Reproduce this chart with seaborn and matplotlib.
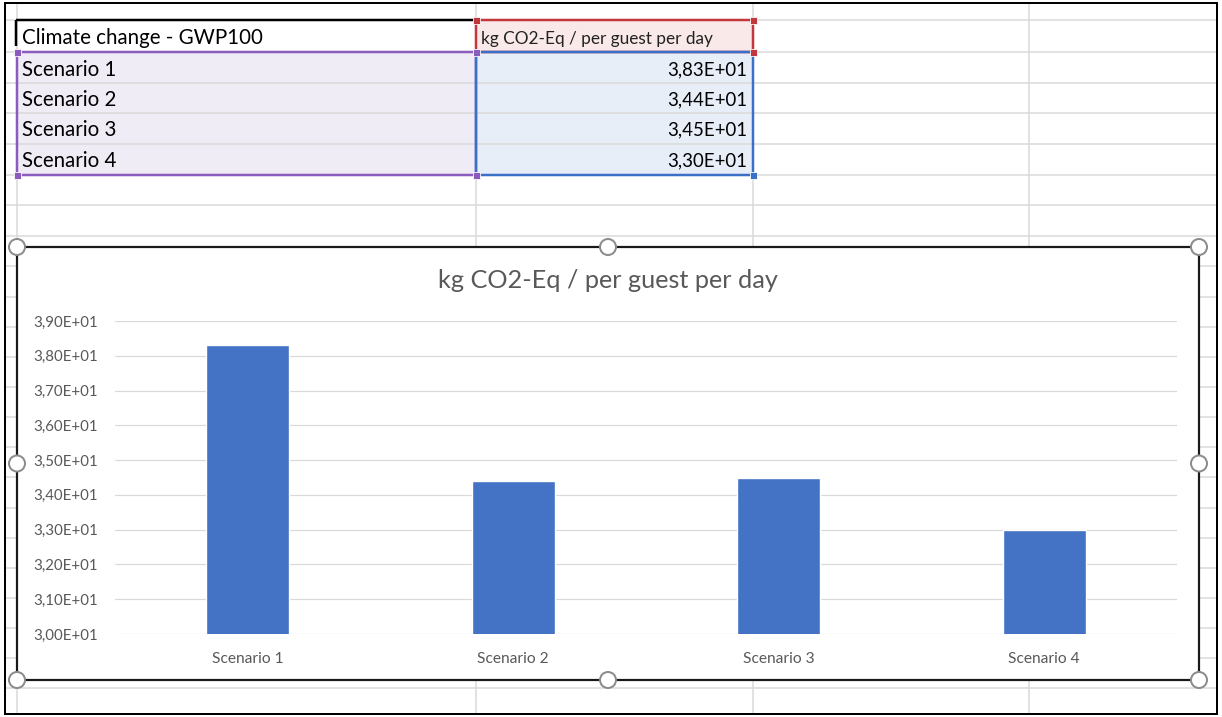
import matplotlib
matplotlib.use("Agg")
import matplotlib.pyplot as plt
from matplotlib.patches import Rectangle, Circle
from matplotlib.ticker import FuncFormatter
import seaborn as sns

# ---- data ----
header_label = "Climate change - GWP100"
unit_label = "kg CO2-Eq / per guest per day"
scenarios = ["Scenario 1", "Scenario 2", "Scenario 3", "Scenario 4"]
emissions = [38.3, 34.4, 34.5, 33.0]
y_ticks = [30, 31, 32, 33, 34, 35, 36, 37, 38, 39]


def sci_comma(v, _pos=None, digits=2):
    return f"{v:.{digits}E}".replace(".", ",")


sns.set_theme(style="white")
plt.rcParams["font.family"] = ["Lato", "DejaVu Sans"]

W, H = 1222, 717
fig = plt.figure(figsize=(W / 100, H / 100), dpi=100)
fig.patch.set_facecolor("white")

# sheet layer in pixel coordinates
bg = fig.add_axes([0, 0, 1, 1])
bg.set_xlim(0, W)
bg.set_ylim(H, 0)
bg.axis("off")

PX = 0.72  # points per pixel at 100 dpi
grid_c = "#d9d9d9"
col_x = [17, 476, 753, 1029]
row_y = [20, 52, 83, 113, 144, 175, 205, 236, 266, 297, 327, 357, 387, 417,
         447, 477, 508, 538, 568, 598, 628, 658, 688]

# range fills
bg.add_patch(Rectangle((476, 20), 277, 32, facecolor="#fae9e9", edgecolor="none", zorder=1))
bg.add_patch(Rectangle((17, 52), 459, 123, facecolor="#f0ecf6", edgecolor="none", zorder=1))
bg.add_patch(Rectangle((476, 52), 277, 123, facecolor="#e8eef8", edgecolor="none", zorder=1))

# cell grid
for y in row_y:
    bg.plot([5, 1217], [y, y], color=grid_c, lw=1.5 * PX, zorder=2)
for x in col_x:
    bg.plot([x, x], [3, 714], color=grid_c, lw=1.5 * PX, zorder=2)

# outer frame of the sheet view
bg.add_patch(Rectangle((5, 3), 1212, 711, facecolor="none", edgecolor="black", lw=2 * PX, zorder=3))

# bold border on the header cell
bg.plot([16, 476], [20, 20], color="black", lw=2.5 * PX, zorder=4, solid_capstyle="butt")
bg.plot([16, 16], [20, 46], color="black", lw=2.5 * PX, zorder=4, solid_capstyle="butt")

# selection range outlines
red, purple, blue = "#c3363c", "#8a5cbe", "#3b70c8"
bg.add_patch(Rectangle((476, 20), 277, 32, facecolor="none", edgecolor=red, lw=2.5 * PX, zorder=4))
bg.add_patch(Rectangle((17, 52), 459, 123, facecolor="none", edgecolor=purple, lw=2.5 * PX, zorder=4))
bg.add_patch(Rectangle((476, 52), 277, 123, facecolor="none", edgecolor=blue, lw=2.5 * PX, zorder=4))


def corner(x, y, c):
    bg.add_patch(Rectangle((x - 3.5, y - 3.5), 7, 7, facecolor=c, edgecolor="white",
                           lw=0.8 * PX, zorder=6))


for (x, y) in [(476, 20), (753, 20), (753, 52)]:
    corner(x, y, red)
for (x, y) in [(17, 52), (17, 175), (476, 175), (476, 52)]:
    corner(x, y, purple)
corner(753, 175, blue)

# table text
name_fs = 14.8
value_fs = 13.4
bg.text(22, 38, header_label, fontsize=name_fs, color="black", va="center", ha="left", zorder=5)
bg.text(481, 39, unit_label, fontsize=12.4, color="#222222", va="center", ha="left", zorder=5)
for i, (s, v) in enumerate(zip(scenarios, emissions)):
    yc = 69.5 + i * 30.4
    bg.text(22, yc, s, fontsize=name_fs, color="black", va="center", ha="left", zorder=5)
    bg.text(747, yc, sci_comma(v), fontsize=value_fs, color="black", va="center", ha="right", zorder=5)

# chart object box
cx0, cy0, cx1, cy1 = 17, 247, 1199, 680
bg.add_patch(Rectangle((cx0, cy0), cx1 - cx0, cy1 - cy0, facecolor="white",
                       edgecolor="#1a1a1a", lw=2.2 * PX, zorder=7))
cm = (cx0 + cx1) / 2
for (x, y) in [(cx0, cy0), (cm, cy0), (cx1, cy0), (cx0, (cy0 + cy1) / 2),
               (cx1, (cy0 + cy1) / 2), (cx0, cy1), (cm, cy1), (cx1, cy1)]:
    bg.add_patch(Circle((x, y), 8, facecolor="white", edgecolor="#8c8c8c",
                        lw=2 * PX, zorder=9))

bg.text(608, 280, unit_label, fontsize=18.2, color="#595959", ha="center", va="center", zorder=8)

# plot area
left, right, top, bottom = 115, 1177, 321, 634
ax = fig.add_axes([left / W, (H - bottom) / H, (right - left) / W, (bottom - top) / H])
ax.set_zorder(10)
ax.patch.set_alpha(0)
sns.barplot(x=scenarios, y=emissions, color="#4472c4", saturation=1, width=0.313, ax=ax)
ax.set_ylim(30, 39)
ax.set_yticks(y_ticks)
ax.yaxis.set_major_formatter(FuncFormatter(sci_comma))
ax.yaxis.grid(True, color="#d9d9d9", lw=1.2 * PX)
ax.set_axisbelow(True)
for sp in ax.spines.values():
    sp.set_visible(False)
ax.tick_params(axis="both", length=0, labelcolor="#595959")
ax.tick_params(axis="y", pad=12, labelsize=10.8)
ax.tick_params(axis="x", pad=13, labelsize=11.2)
ax.set_xlabel("")
ax.set_ylabel("")

fig.savefig("out.png", dpi=100, facecolor="white")
